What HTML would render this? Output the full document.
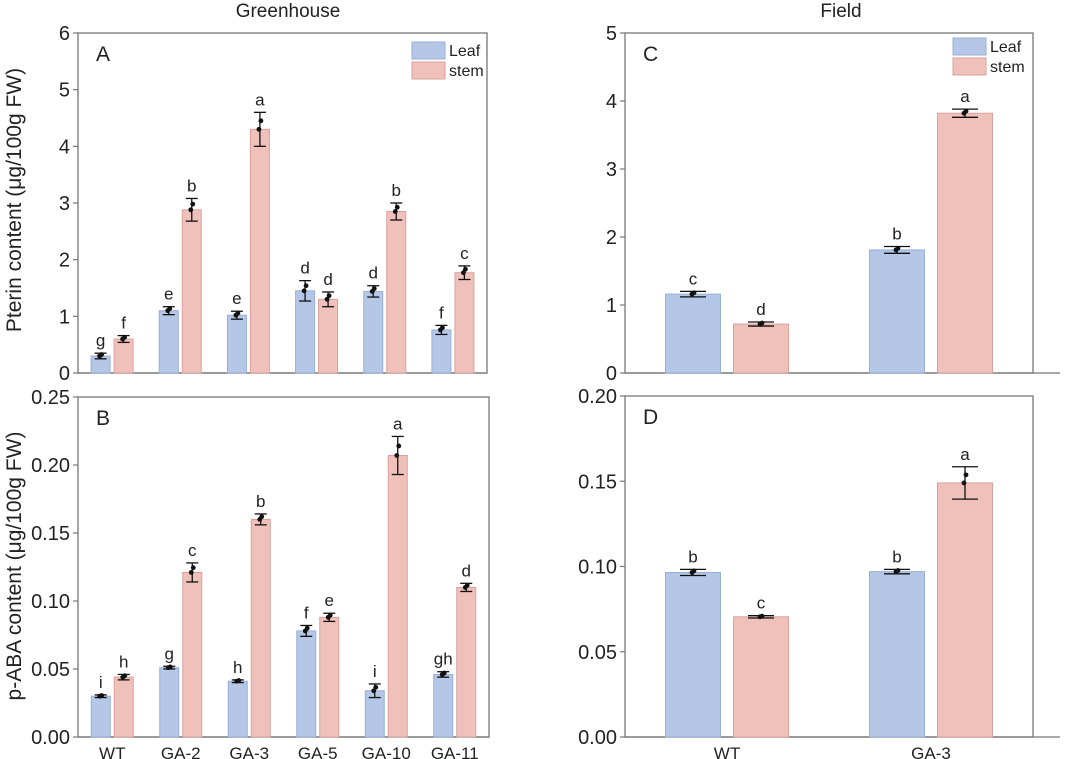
<!DOCTYPE html>
<html><head><meta charset="utf-8"><style>
html,body{margin:0;padding:0;background:#fff;}
svg{display:block;font-family:"Liberation Sans",Arial,sans-serif;}
</style></head><body>
<svg id="fig" width="1080" height="759" viewBox="0 0 1080 759" xmlns="http://www.w3.org/2000/svg">
<text x="288" y="17" font-size="19" text-anchor="middle" fill="#222">Greenhouse</text>
<text x="841" y="17" font-size="19" text-anchor="middle" fill="#222">Field</text>
<text transform="translate(21,200) rotate(-90)" font-size="21" text-anchor="middle" fill="#222">Pterin content (μg/100g FW)</text>
<text transform="translate(21,566) rotate(-90)" font-size="21" text-anchor="middle" fill="#222">p-ABA content (μg/100g FW)</text>
</svg>
<script>
const ghCats=["WT","GA-2","GA-3","GA-5","GA-10","GA-11"];
const aLeaf=[0.30,1.10,1.02,1.45,1.44,0.76];
const aLeafErr=[0.05,0.07,0.07,0.18,0.10,0.08];
const aStem=[0.60,2.88,4.30,1.30,2.85,1.77];
const aStemErr=[0.06,0.20,0.30,0.13,0.15,0.12];
const aLeafLet=["g","e","e","d","d","f"];
const aStemLet=["f","b","a","d","b","c"];
const aTicks=["0","1","2","3","4","5","6"];
const bLeaf=[0.030,0.051,0.041,0.078,0.034,0.046];
const bLeafErr=[0.001,0.001,0.001,0.004,0.005,0.002];
const bStem=[0.044,0.121,0.160,0.088,0.207,0.110];
const bStemErr=[0.002,0.007,0.004,0.003,0.014,0.003];
const bLeafLet=["i","g","h","f","i","gh"];
const bStemLet=["h","c","b","e","a","d"];
const bTicks=["0.00","0.05","0.10","0.15","0.20","0.25"];
const fCats=["WT","GA-3"];
const cLeaf=[1.16,1.81];
const cLeafErr=[0.04,0.05];
const cStem=[0.72,3.82];
const cStemErr=[0.03,0.06];
const cLeafLet=["c","b"];
const cStemLet=["d","a"];
const cTicks=["0","1","2","3","4","5"];
const dLeaf=[0.0965,0.097];
const dLeafErr=[0.0018,0.0013];
const dStem=[0.0705,0.149];
const dStemErr=[0.0007,0.0095];
const dLeafLet=["b","b"];
const dStemLet=["c","a"];
const dTicks=["0.00","0.05","0.10","0.15","0.20"];

const NS="http://www.w3.org/2000/svg";
const svg=document.getElementById('fig');
function mk(tag,attrs,parent){const e=document.createElementNS(NS,tag);for(const k in attrs)e.setAttribute(k,attrs[k]);(parent||svg).appendChild(e);return e;}

function panel(o){
  const g=mk('g',{});
  
  
  const ymax=parseFloat(o.ticks[o.ticks.length-1]);
  const y=v=>o.bot-(v/ymax)*(o.bot-o.top);
  const band=(o.right-o.left)/o.cats.length;
  const cx=i=>o.left+band*(i+0.5);
  const fr=mk('rect',{x:o.left,y:o.top,width:o.right-o.left,height:o.bot-o.top,fill:'none',stroke:'#777','stroke-width':1.3},g);
  
  
  const ax=mk('line',{x1:o.left,x2:o.axisEnd,y1:o.bot,y2:o.bot,stroke:'#777','stroke-width':1.3},g);
  
  
  o.ticks.forEach(t=>{
    const v=parseFloat(t),yy=y(v);
    mk('line',{x1:o.left-5,x2:o.left,y1:yy,y2:yy,stroke:'#777','stroke-width':1.2},g);
    const tx=mk('text',{x:o.left-8,y:yy+7,'font-size':20,'text-anchor':'end',fill:'#222'},g);
    tx.textContent=t;
    
    
  });
  const pl=mk('text',{x:o.left+18,y:o.top+28,'font-size':21,fill:'#222'},g);
  pl.textContent=o.id;
  
  
  const series=[[o.leaf,o.leafErr,o.leafLet,'#b4c7e7','#98afd6','leaf'],[o.stem,o.stemErr,o.stemLet,'#f0c0bb','#d9a29c','stem']];
  o.cats.forEach((c,i)=>{
    series.forEach((s,k)=>{
      const x0=cx(i)+(k===0?-(o.bw+o.gap/2):o.gap/2);
      const v=s[0][i],e=s[1][i];
      const r=mk('rect',{x:x0,y:y(v),width:o.bw,height:o.bot-y(v),fill:s[3],stroke:s[4],'stroke-width':1},g);
      
      
      const mx=x0+o.bw/2,cap=o.cap;
      mk('line',{x1:mx,x2:mx,y1:y(v+e),y2:y(v-e),stroke:'#111','stroke-width':1.3},g);
      mk('line',{x1:mx-cap,x2:mx+cap,y1:y(v+e),y2:y(v+e),stroke:'#111','stroke-width':1.3},g);
      mk('line',{x1:mx-cap,x2:mx+cap,y1:y(v-e),y2:y(v-e),stroke:'#111','stroke-width':1.3},g);
      mk('circle',{cx:mx-1,cy:y(v),r:2.4,fill:'#111'},g);
      mk('circle',{cx:mx+1,cy:y(v+e*0.5),r:2.4,fill:'#111'},g);
      const lt=mk('text',{x:mx,y:y(v+e)-7,'font-size':17,'text-anchor':'middle',fill:'#222'},g);
      lt.textContent=s[2][i];
      
      
    });
    if(o.showX){
      const xl=mk('text',{x:cx(i),y:o.bot+22,'font-size':17,'text-anchor':'middle',fill:'#222'},g);
      xl.textContent=c;
      
      
    }
  });
  if(o.legend){
    const [lx,ly]=o.legend;
    [['Leaf','#b4c7e7','#98afd6'],['stem','#f0c0bb','#d9a29c']].forEach((L,k)=>{
      const lr=mk('rect',{x:lx,y:ly+k*20,width:33,height:17,fill:L[1],stroke:L[2]},g);
      
      
      const lt=mk('text',{x:lx+37,y:ly+k*20+14,'font-size':16,fill:'#222'},g);
      lt.textContent=L[0];
      
      
    });
  }
}
panel({id:'A',cats:ghCats,leaf:aLeaf,leafErr:aLeafErr,stem:aStem,stemErr:aStemErr,leafLet:aLeafLet,stemLet:aStemLet,ticks:aTicks,left:78,right:487,top:33,bot:373,axisEnd:487,bw:19,gap:4,cap:6,showX:false,legend:[412,42]});
panel({id:'B',cats:ghCats,leaf:bLeaf,leafErr:bLeafErr,stem:bStem,stemErr:bStemErr,leafLet:bLeafLet,stemLet:bStemLet,ticks:bTicks,left:78,right:489,top:397,bot:737,axisEnd:489,bw:19,gap:4,cap:6,showX:true});
panel({id:'C',cats:fCats,leaf:cLeaf,leafErr:cLeafErr,stem:cStem,stemErr:cStemErr,leafLet:cLeafLet,stemLet:cStemLet,ticks:cTicks,left:625,right:1033,top:33,bot:373,axisEnd:1060,bw:55,gap:13,cap:13,showX:false,legend:[953,38]});
panel({id:'D',cats:fCats,leaf:dLeaf,leafErr:dLeafErr,stem:dStem,stemErr:dStemErr,leafLet:dLeafLet,stemLet:dStemLet,ticks:dTicks,left:625,right:1033,top:396,bot:737,axisEnd:1060,bw:55,gap:13,cap:13,showX:true});
</script>
</body></html>
